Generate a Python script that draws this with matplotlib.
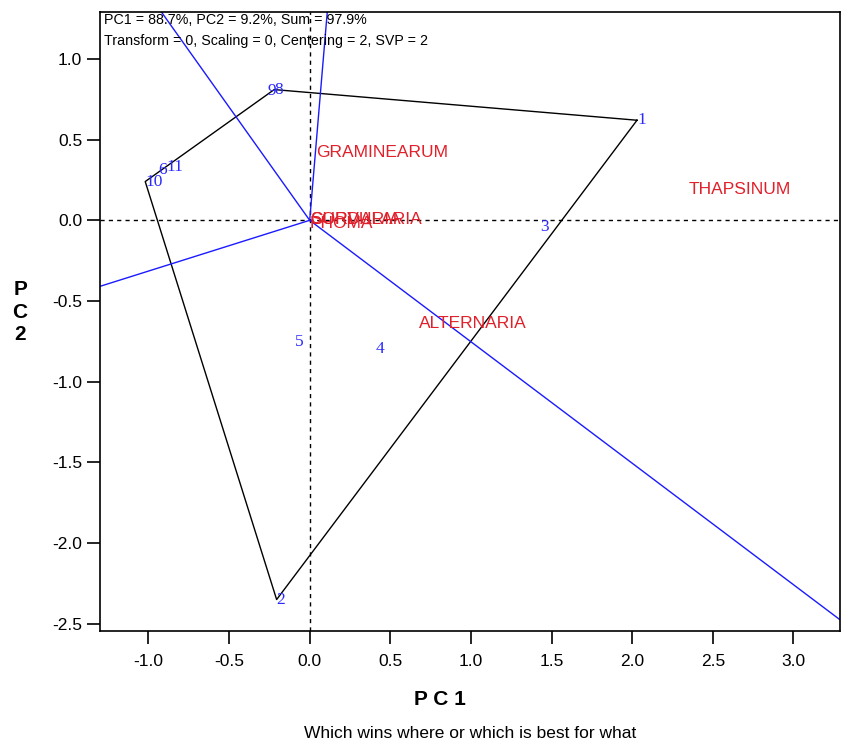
import matplotlib
matplotlib.use('Agg')
import matplotlib.pyplot as plt
import numpy as np

# genotype scores (PC1, PC2)
gen_labels = ['1', '2', '3', '4', '5', '6', '8', '9', '10', '11']
gen_pc1 = [2.03, -0.205, 1.43, 0.41, -0.09, -0.94, -0.22, -0.26, -1.02, -0.89]
gen_pc2 = [0.62, -2.35, -0.04, -0.80, -0.755, 0.31, 0.81, 0.80, 0.24, 0.33]

# polygon vertices (genotypes on the hull, in order)
hull_order = ['1', '2', '10', '8']

# environment scores
env_labels = ['GRAMINEARUM', 'THAPSINUM', 'ALTERNARIA', 'CURVULARIA', 'SORDARIA', 'PHOMA']
env_pc1 = [0.04, 2.35, 0.68, 0.0, 0.005, 0.0]
env_pc2 = [0.42, 0.19, -0.64, 0.005, 0.005, -0.02]

header = ['PC1 = 88.7%, PC2 = 9.2%, Sum = 97.9%',
          'Transform = 0, Scaling = 0, Centering = 2, SVP = 2']

fig = plt.figure(figsize=(8.41, 7.43), dpi=100)
ax = fig.add_axes([0.119, 0.1507, 0.88, 0.833])
ax.set_xlim(-1.30, 3.29)
ax.set_ylim(-2.545, 1.29)

ax.axhline(0, color='black', linestyle=(0, (3, 3)), linewidth=1)
ax.axvline(0, color='black', linestyle=(0, (3, 3)), linewidth=1)

hull = [(gen_pc1[gen_labels.index(g)], gen_pc2[gen_labels.index(g)]) for g in hull_order]
hx = [p[0] for p in hull] + [hull[0][0]]
hy = [p[1] for p in hull] + [hull[0][1]]
ax.plot(hx, hy, color='black', linewidth=1)

# rays from origin perpendicular to each side of the polygon
for i in range(len(hull)):
    a = np.array(hull[i])
    b = np.array(hull[(i + 1) % len(hull)])
    d = b - a
    t = -np.dot(a, d) / np.dot(d, d)
    foot = a + t * d
    far = foot / np.linalg.norm(foot) * 20
    ax.plot([0, far[0]], [0, far[1]], color='#1a1aff', linewidth=1)

for lab, x, y in zip(gen_labels, gen_pc1, gen_pc2):
    ax.text(x, y, lab, color='#2a2aff', fontsize=12.5, family='Liberation Serif',
            ha='left', va='center')

for lab, x, y in zip(env_labels, env_pc1, env_pc2):
    ax.text(x, y, lab, color='#e0202a', fontsize=12.5, family='Liberation Sans',
            ha='left', va='center')

ax.text(0.005, 0.987, header[0], transform=ax.transAxes, fontsize=10.3,
        family='Liberation Sans', va='center', ha='left')
ax.text(0.005, 0.953, header[1], transform=ax.transAxes, fontsize=10.3,
        family='Liberation Sans', va='center', ha='left')

ax.set_xticks([-1.0, -0.5, 0.0, 0.5, 1.0, 1.5, 2.0, 2.5, 3.0])
ax.set_yticks([1.0, 0.5, 0.0, -0.5, -1.0, -1.5, -2.0, -2.5])
ax.xaxis.set_major_formatter(matplotlib.ticker.FormatStrFormatter('%.1f'))
ax.yaxis.set_major_formatter(matplotlib.ticker.FormatStrFormatter('%.1f'))
ax.tick_params(direction='out', length=9.4, width=1.2, labelsize=12.5)
ax.tick_params(axis='x', pad=7)
ax.tick_params(axis='y', pad=3.5)
for lbl in ax.get_xticklabels() + ax.get_yticklabels():
    lbl.set_family('Liberation Sans')

for s in ax.spines.values():
    s.set_linewidth(1.2)

fig.text(0.523, 0.058, 'P C 1', fontsize=15, fontweight='bold',
         family='Liberation Sans', ha='center', va='center')
fig.text(0.024, 0.58, 'P\nC\n2', fontsize=15, fontweight='bold',
         family='Liberation Sans', ha='center', va='center', linespacing=1.25)
fig.text(0.559, 0.013, 'Which wins where or which is best for what', fontsize=12.5,
         family='Liberation Sans', ha='center', va='center')

fig.savefig('out.png', dpi=100)
